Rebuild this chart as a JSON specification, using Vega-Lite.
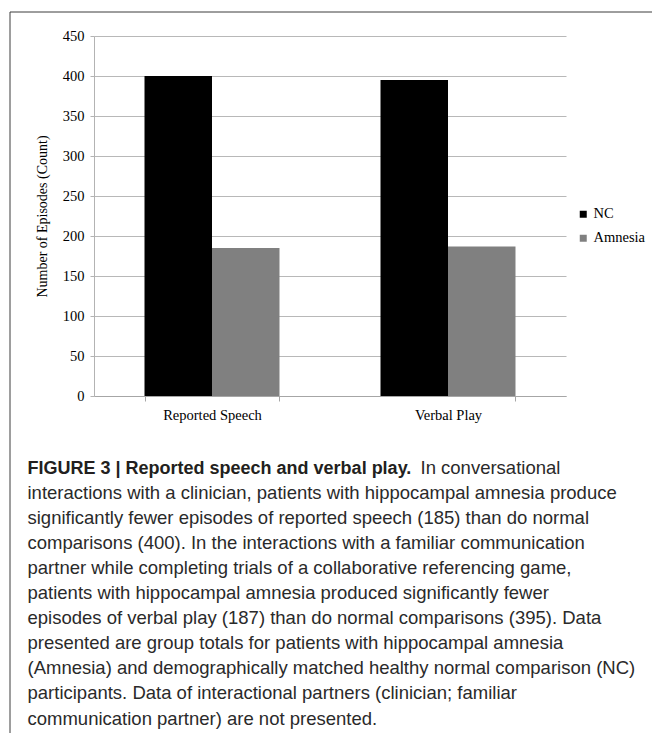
{
  "$schema": "https://vega.github.io/schema/vega-lite/v6.json",
  "width": 472,
  "height": 360,
  "padding": {"left": 9, "top": 11, "right": 0, "bottom": 0},
  "background": "white",
  "config": {"view": {"stroke": null}, "font": "Liberation Serif"},
  "datasets": {
    "bars": [
      {"measure": "Reported Speech", "group": "NC", "count": 400},
      {"measure": "Reported Speech", "group": "Amnesia", "count": 185},
      {"measure": "Verbal Play", "group": "NC", "count": 395},
      {"measure": "Verbal Play", "group": "Amnesia", "count": 187}
    ],
    "frame": [
      {"x": 0, "x2": 1, "y": 0, "y2": 0},
      {"x": 0, "x2": 0, "y": 0, "y2": 1}
    ],
    "caption": [
      {"line": 1, "part": "bold", "text": "FIGURE 3 | Reported speech and verbal play."},
      {"line": 1, "part": "lead", "text": "In conversational"},
      {"line": 2, "part": "regular", "text": "interactions with a clinician, patients with hippocampal amnesia produce"},
      {"line": 3, "part": "regular", "text": "significantly fewer episodes of reported speech (185) than do normal"},
      {"line": 4, "part": "regular", "text": "comparisons (400). In the interactions with a familiar communication"},
      {"line": 5, "part": "regular", "text": "partner while completing trials of a collaborative referencing game,"},
      {"line": 6, "part": "regular", "text": "patients with hippocampal amnesia produced significantly fewer"},
      {"line": 7, "part": "regular", "text": "episodes of verbal play (187) than do normal comparisons (395). Data"},
      {"line": 8, "part": "regular", "text": "presented are group totals for patients with hippocampal amnesia"},
      {"line": 9, "part": "regular", "text": "(Amnesia) and demographically matched healthy normal comparison (NC)"},
      {"line": 10, "part": "regular", "text": "participants. Data of interactional partners (clinician; familiar"},
      {"line": 11, "part": "regular", "text": "communication partner) are not presented."}
    ]
  },
  "layer": [
    {
      "data": {"name": "bars"},
      "mark": {"type": "bar"},
      "encoding": {
        "x": {
          "field": "measure",
          "type": "nominal",
          "sort": ["Reported Speech", "Verbal Play"],
          "scale": {"paddingInner": 0.428, "paddingOuter": 0.214},
          "axis": {
            "title": null,
            "labelAngle": 0,
            "tickBand": "extent",
            "domainColor": "#a6a6a6",
            "tickColor": "#a6a6a6",
            "tickSize": 5,
            "labelPadding": 7,
            "labelFont": "Liberation Serif",
            "labelFontSize": 14.5,
            "labelColor": "#000000",
            "grid": false
          }
        },
        "xOffset": {
          "field": "group",
          "type": "nominal",
          "scale": {"domain": ["NC", "Amnesia"], "paddingInner": 0, "paddingOuter": 0}
        },
        "y": {
          "field": "count",
          "type": "quantitative",
          "scale": {"domain": [0, 450]},
          "axis": {
            "title": "Number of Episodes (Count)",
            "values": [0, 50, 100, 150, 200, 250, 300, 350, 400, 450],
            "domainColor": "#b3b3b3",
            "gridColor": "#b8b8b8",
            "tickColor": "#b3b3b3",
            "tickSize": 4,
            "labelPadding": 6,
            "labelFont": "Liberation Serif",
            "labelFontSize": 14.5,
            "labelColor": "#000000",
            "titleFont": "Liberation Serif",
            "titleFontSize": 14,
            "titleFontWeight": "normal",
            "titleColor": "#000000",
            "titlePadding": 13
          }
        },
        "color": {
          "field": "group",
          "type": "nominal",
          "scale": {"domain": ["NC", "Amnesia"], "range": ["#000000", "#808080"]},
          "legend": {
            "title": null,
            "orient": "none",
            "legendX": 482,
            "legendY": 171,
            "symbolType": "square",
            "symbolSize": 49,
            "symbolStrokeWidth": 0,
            "labelFont": "Liberation Serif",
            "labelFontSize": 14.5,
            "labelColor": "#000000",
            "rowPadding": 9,
            "labelOffset": 3,
            "padding": 0
          }
        }
      }
    },
    {
      "data": {"name": "frame"},
      "mark": {"type": "rule", "color": "#3c3c3c", "strokeWidth": 1},
      "encoding": {
        "x": {"field": "x", "type": "quantitative", "scale": {"domain": [0, 1], "range": [-84, 558]}, "axis": null},
        "x2": {"field": "x2"},
        "y": {"field": "y", "type": "quantitative", "scale": {"domain": [0, 1], "range": [-24, 697]}, "axis": null},
        "y2": {"field": "y2"}
      }
    },
    {
      "data": {"name": "caption"},
      "transform": [{"filter": "datum.part == 'bold'"}],
      "mark": {"type": "text", "align": "left", "baseline": "alphabetic", "font": "Liberation Sans", "fontSize": 18, "fontWeight": "bold", "color": "#231f20"},
      "encoding": {
        "x": {"datum": 0, "type": "quantitative", "scale": {"domain": [0, 1], "range": [-66.5, 0]}, "axis": null},
        "y": {"field": "line", "type": "quantitative", "scale": {"domain": [1, 11], "range": [437.5, 688.5]}, "axis": null},
        "text": {"field": "text"}
      }
    },
    {
      "data": {"name": "caption"},
      "transform": [{"filter": "datum.part == 'lead'"}],
      "mark": {"type": "text", "align": "left", "baseline": "alphabetic", "font": "Liberation Sans", "fontSize": 18.5, "dx": 393, "color": "#2a2a2a"},
      "encoding": {
        "x": {"datum": 0, "type": "quantitative", "scale": {"domain": [0, 1], "range": [-66.5, 0]}, "axis": null},
        "y": {"field": "line", "type": "quantitative", "scale": {"domain": [1, 11], "range": [437.5, 688.5]}, "axis": null},
        "text": {"field": "text"}
      }
    },
    {
      "data": {"name": "caption"},
      "transform": [{"filter": "datum.part == 'regular'"}],
      "mark": {"type": "text", "align": "left", "baseline": "alphabetic", "font": "Liberation Sans", "fontSize": 18.5, "color": "#2a2a2a"},
      "encoding": {
        "x": {"datum": 0, "type": "quantitative", "scale": {"domain": [0, 1], "range": [-66.5, 0]}, "axis": null},
        "y": {"field": "line", "type": "quantitative", "scale": {"domain": [1, 11], "range": [437.5, 688.5]}, "axis": null},
        "text": {"field": "text"}
      }
    }
  ],
  "resolve": {"scale": {"x": "independent", "y": "independent", "xOffset": "independent"}}
}
